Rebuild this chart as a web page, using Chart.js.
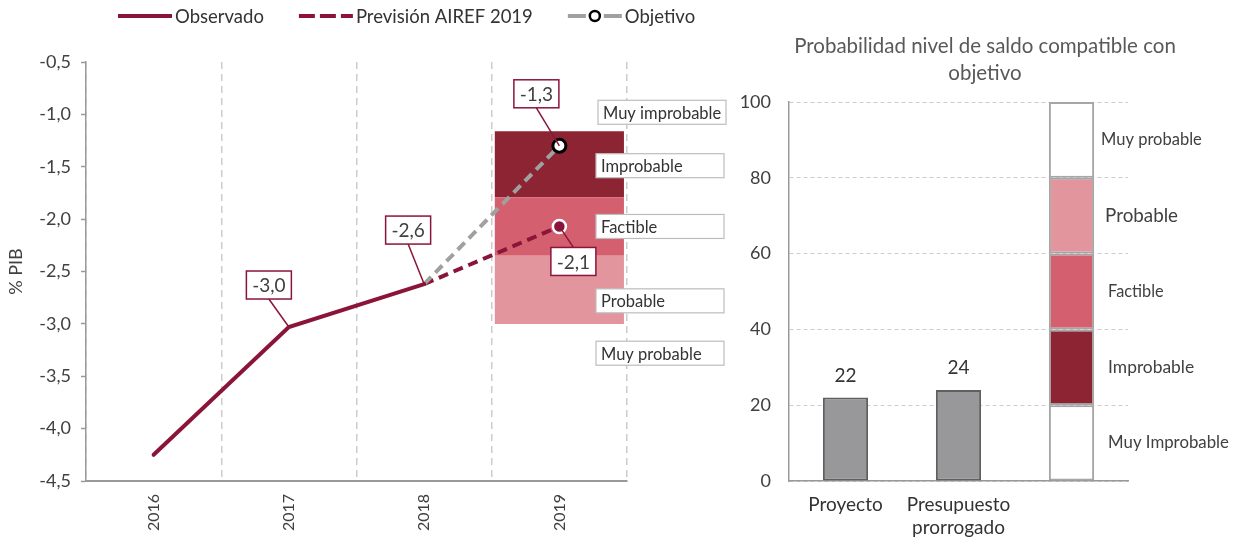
<!DOCTYPE html>
<html>
<head>
<meta charset="utf-8">
<script src="https://cdn.jsdelivr.net/npm/chart.js@4.4.1/dist/chart.umd.min.js"></script>
<style>
  html, body { margin: 0; padding: 0; background: #ffffff; }
  #wrap { position: relative; width: 1245px; height: 542px; overflow: hidden; }
  #left { position: absolute; left: 0; top: 0; }
  #right { position: absolute; left: 740px; top: 0; }
</style>
</head>
<body>
<div id="wrap">
  <canvas id="left" width="740" height="542"></canvas>
  <canvas id="right" width="505" height="542"></canvas>
</div>
<script>
// ---------- DATA (left chart) ----------
const years = ['2016', '2017', '2018', '2019'];
const observado = [-4.25, -3.03, -2.62, null];
const prevision = [null, null, -2.62, -2.07];
const objetivo = [null, null, -2.62, -1.30];
const bandaProbable = [null, null, null, [-3.00, -2.35]];
const bandaFactible = [null, null, null, [-2.35, -1.79]];
const bandaImprobable = [null, null, null, [-1.79, -1.16]];
const etiquetasBandas = ['Muy improbable', 'Improbable', 'Factible', 'Probable', 'Muy probable'];
const posBandas = [-0.98, -1.49, -2.07, -2.78, -3.28];
const yTicksMin = -4.5, yTicksMax = -0.5, yTicksStep = 0.5;
const legendLabels = ['Observado', 'Previsión AIREF 2019', 'Objetivo'];

// ---------- DATA (right chart) ----------
const escenarios = ['Proyecto', ['Presupuesto', 'prorrogado'], ''];
const probabilidad = [22, 24, null];
const zonas = ['Muy Improbable', 'Improbable', 'Factible', 'Probable', 'Muy probable'];
const zonaAmplitud = [20, 20, 20, 20, 20];
const tituloDerecha = ['Probabilidad nivel de saldo compatible con', 'objetivo'];

// ---------- STYLE ----------
const BURG = '#8b1538';
const GRAYLINE = '#a0a0a0';
const C_DARK = '#8c2433';
const C_MED = '#d4606f';
const C_LIGHT = '#e3959e';
const TXT = '#404040';
const FONT = 'Lato, "Noto Sans", sans-serif';
Chart.defaults.font.family = FONT;
Chart.defaults.color = TXT;

const fmt = v => v.toFixed(1).replace('.', ',');

// ---------- LEFT CHART ----------
const leftAnnot = {
  id: 'leftAnnot',
  afterDatasetsDraw(chart) {
    const ctx = chart.ctx;
    const y = chart.scales.y;
    const specs = [
      { ds: 0, idx: 1, dx: -20, dy: -42, val: observado[1] },
      { ds: 0, idx: 2, dx: -16, dy: -54, val: observado[2] },
      { ds: 1, idx: 3, dx: 14, dy: 35, val: prevision[3] },
      { ds: 2, idx: 3, dx: -23, dy: -52, val: objetivo[3] }
    ];
    ctx.save();
    specs.forEach(s => {
      const pt = chart.getDatasetMeta(s.ds).data[s.idx];
      const bw = 45, bh = 28;
      const cx = pt.x + s.dx, cy = pt.y + s.dy;
      const ey = s.dy < 0 ? cy + bh / 2 : cy - bh / 2;
      ctx.strokeStyle = BURG;
      ctx.lineWidth = 1.5;
      ctx.beginPath();
      ctx.moveTo(pt.x, pt.y);
      ctx.lineTo(cx, ey);
      ctx.stroke();
      ctx.fillStyle = '#fff';
      ctx.fillRect(cx - bw / 2, cy - bh / 2, bw, bh);
      ctx.strokeRect(cx - bw / 2, cy - bh / 2, bw, bh);
      ctx.fillStyle = TXT;
      ctx.font = '19px ' + FONT;
      ctx.textAlign = 'center';
      ctx.textBaseline = 'middle';
      ctx.fillText(fmt(s.val), cx, cy + 1);
    });
    etiquetasBandas.forEach((t, i) => {
      const py = y.getPixelForValue(posBandas[i]);
      const bx = i === 0 ? 598 : 596, bw = 128, bh = 24;
      ctx.fillStyle = '#fff';
      ctx.fillRect(bx, py - bh / 2, bw, bh);
      ctx.strokeStyle = '#bdbdbd';
      ctx.lineWidth = 1.2;
      ctx.strokeRect(bx, py - bh / 2, bw, bh);
      ctx.fillStyle = '#333';
      ctx.font = '16.5px ' + FONT;
      ctx.textAlign = 'left';
      ctx.textBaseline = 'middle';
      ctx.fillText(t, bx + 5, py + 1);
    });
    ctx.restore();
  },
  afterDraw(chart) {
    const ctx = chart.ctx;
    ctx.save();
    ctx.font = '18.5px ' + FONT;
    ctx.textBaseline = 'middle';
    ctx.textAlign = 'left';
    const sw = 54, g1 = 3, g2 = 35;
    const widths = legendLabels.map(t => ctx.measureText(t).width);
    let x = 118;
    const ly = 16;
    legendLabels.forEach((t, i) => {
      ctx.lineWidth = 4;
      if (i === 0) {
        ctx.strokeStyle = BURG; ctx.setLineDash([]);
        ctx.beginPath(); ctx.moveTo(x, ly); ctx.lineTo(x + sw, ly); ctx.stroke();
      } else if (i === 1) {
        ctx.strokeStyle = BURG; ctx.setLineDash([16, 5]);
        ctx.beginPath(); ctx.moveTo(x, ly); ctx.lineTo(x + sw, ly); ctx.stroke();
      } else {
        ctx.strokeStyle = GRAYLINE; ctx.setLineDash([]);
        ctx.beginPath(); ctx.moveTo(x, ly); ctx.lineTo(x + 18, ly); ctx.stroke();
        ctx.beginPath(); ctx.moveTo(x + sw - 18, ly); ctx.lineTo(x + sw, ly); ctx.stroke();
        ctx.lineWidth = 2.5; ctx.strokeStyle = '#000'; ctx.fillStyle = '#fff';
        ctx.beginPath(); ctx.arc(x + sw / 2, ly, 5, 0, Math.PI * 2); ctx.fill(); ctx.stroke();
      }
      ctx.setLineDash([]);
      ctx.fillStyle = '#333';
      ctx.fillText(t, x + sw + g1, ly + 1);
      x += sw + g1 + widths[i] + g2;
    });
    ctx.restore();
  }
};

new Chart(document.getElementById('left'), {
  type: 'bar',
  data: {
    labels: years,
    datasets: [
      { type: 'line', label: legendLabels[0], data: observado, borderColor: BURG, borderWidth: 4, pointRadius: 0, order: 1, borderCapStyle: 'round' },
      { type: 'line', label: legendLabels[1], data: prevision, borderColor: BURG, borderWidth: 4, borderDash: [10, 6], pointRadius: [0, 0, 0, 6.5], pointBackgroundColor: BURG, pointBorderColor: '#fff', pointBorderWidth: 2.5, order: 3 },
      { type: 'line', label: legendLabels[2], data: objetivo, borderColor: GRAYLINE, borderWidth: 4, borderDash: [10, 6], pointRadius: [0, 0, 0, 6.5], pointBackgroundColor: '#fff', pointBorderColor: '#000', pointBorderWidth: 3, order: 2 },
      { type: 'bar', label: 'Probable', data: bandaProbable, backgroundColor: C_LIGHT, borderWidth: 0, grouped: false, barPercentage: 0.955, categoryPercentage: 1, order: 10 },
      { type: 'bar', label: 'Factible', data: bandaFactible, backgroundColor: C_MED, borderWidth: 0, grouped: false, barPercentage: 0.955, categoryPercentage: 1, order: 10 },
      { type: 'bar', label: 'Improbable', data: bandaImprobable, backgroundColor: C_DARK, borderWidth: 0, grouped: false, barPercentage: 0.955, categoryPercentage: 1, order: 10 }
    ]
  },
  options: {
    responsive: false,
    animation: false,
    devicePixelRatio: 1,
    events: [],
    layout: { padding: { top: 62, right: 113, left: 0, bottom: 0 } },
    plugins: { legend: { display: false }, tooltip: { enabled: false } },
    scales: {
      x: {
        offset: true,
        grid: { offset: true, color: '#cccccc', lineWidth: 1.5, drawTicks: false },
        border: { color: '#999999', width: 2, dash: [7, 5] },
        ticks: { minRotation: 90, maxRotation: 90, autoSkip: false, padding: 13, font: { size: 16 }, color: TXT },
        afterFit: s => { s.height = 61; }
      },
      y: {
        min: yTicksMin, max: yTicksMax,
        grid: { drawOnChartArea: false, drawTicks: true, tickLength: 5, color: '#999999', tickWidth: 1.5 },
        border: { color: '#999999', width: 1.5 },
        ticks: { stepSize: yTicksStep, padding: 10, font: { size: 18 }, color: TXT, callback: v => fmt(v) },
        title: { display: true, text: '% PIB', font: { size: 18 }, color: TXT, padding: { top: 5, bottom: 0 } },
        afterFit: s => { s.width = 86; }
      }
    }
  },
  plugins: [leftAnnot]
});

// ---------- RIGHT CHART ----------
const zonaColores = ['#ffffff', C_DARK, C_MED, C_LIGHT, '#ffffff'];
const zonaFont = [16.8, 17.4, 16.3, 18.8, 16.5];
const zonaDx = [14, 14, 14, 11, 7];

const rightAnnot = {
  id: 'rightAnnot',
  afterDatasetsDraw(chart) {
    const ctx = chart.ctx;
    ctx.save();
    ctx.fillStyle = '#595959';
    ctx.font = '20.5px ' + FONT;
    ctx.textAlign = 'center';
    ctx.textBaseline = 'middle';
    tituloDerecha.forEach((t, i) => ctx.fillText(t, 245, 46 + i * 27));
    const m0 = chart.getDatasetMeta(0);
    ctx.fillStyle = '#333';
    ctx.font = '19px ' + FONT;
    probabilidad.forEach((v, i) => {
      if (v == null) return;
      const b = m0.data[i];
      ctx.fillText(String(v), b.x, b.y - 22);
    });
    zonas.forEach((z, i) => {
      const b = chart.getDatasetMeta(i + 1).data[2];
      const right = b.x + b.width / 2;
      ctx.font = zonaFont[i] + 'px ' + FONT;
      ctx.textAlign = 'left';
      ctx.fillStyle = '#404040';
      ctx.fillText(z, right + zonaDx[i], (b.y + b.base) / 2);
    });
    ctx.restore();
  }
};

const rightDatasets = [
  { label: 'Probabilidad', data: probabilidad, backgroundColor: '#98989b', borderColor: '#5f5f5f', borderWidth: 2, borderSkipped: false }
];
zonas.forEach((z, i) => {
  rightDatasets.push({
    label: z,
    data: [null, null, zonaAmplitud[i]],
    backgroundColor: zonaColores[i],
    borderColor: '#a6a6a6',
    borderWidth: 2,
    borderSkipped: false
  });
});

new Chart(document.getElementById('right'), {
  type: 'bar',
  data: { labels: escenarios, datasets: rightDatasets },
  options: {
    responsive: false,
    animation: false,
    devicePixelRatio: 1,
    events: [],
    layout: { padding: { top: 102, right: 117, left: 0, bottom: 0 } },
    plugins: { legend: { display: false }, tooltip: { enabled: false } },
    datasets: { bar: { categoryPercentage: 0.8, barPercentage: 0.5 } },
    scales: {
      x: {
        stacked: true,
        grid: { display: true, drawOnChartArea: false, drawTicks: false },
        border: { color: '#999999', width: 1.5 },
        ticks: { padding: 12, font: { size: 19, lineHeight: 1.22 }, color: '#333' },
        afterFit: s => { s.height = 61; }
      },
      y: {
        stacked: true,
        min: 0, max: 100,
        grid: { color: '#cccccc', lineWidth: 1, drawTicks: false },
        border: { color: '#999999', width: 1.5, dash: [4, 3] },
        ticks: { stepSize: 20, padding: 18, font: { size: 18 }, color: TXT },
        afterFit: s => { s.width = 49; }
      }
    }
  },
  plugins: [rightAnnot]
});
</script>
</body>
</html>
